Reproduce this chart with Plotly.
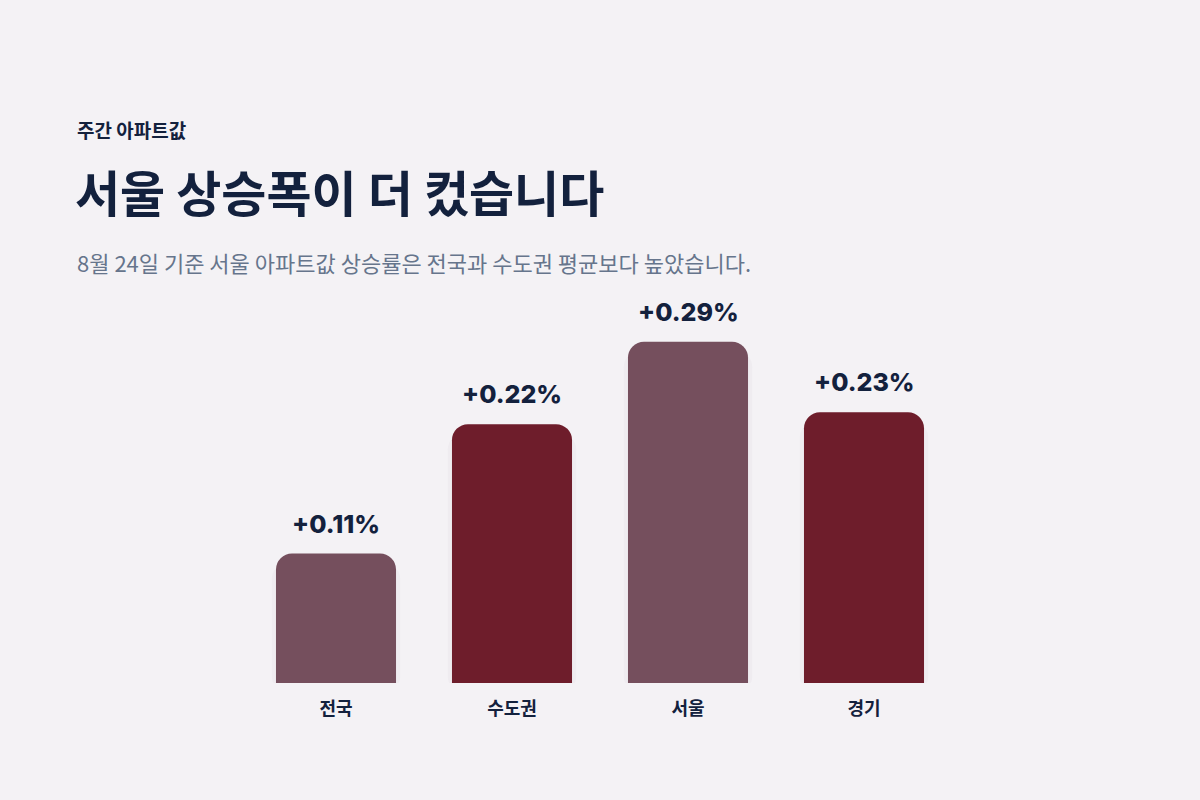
import plotly.graph_objects as go

# data
regions = ["전국", "수도권", "서울", "경기"]
weekly_change = [0.11, 0.22, 0.29, 0.23]
value_labels = ["+0.11%", "+0.22%", "+0.29%", "+0.23%"]
highlight = [False, True, False, True]

kicker = "주간 아파트값"
title = "서울 상승폭이 더 컸습니다"
subtitle = "8월 24일 기준 서울 아파트값 상승률은 전국과 수도권 평균보다 높았습니다."

W, H = 1200, 800
M_L, M_R, M_T, M_B = 248, 248, 330, 117

BG = "#F4F2F5"
NAVY = "#13213D"
MUTED = "#754F5D"
DARK = "#6E1D2B"
KR = "Noto Sans CJK KR"


def px_x(x):
    return (x - M_L) / (W - M_L - M_R)


def px_y(y):
    return (H - M_B - y) / (H - M_T - M_B)


colors = [DARK if h else MUTED for h in highlight]

fig = go.Figure()

# soft shadow behind the bars
fig.add_trace(go.Bar(
    x=regions, y=weekly_change, width=0.73, base=-0.008,
    marker=dict(color="rgba(80,60,80,0.03)", line_width=0),
    hoverinfo="skip", showlegend=False,
))
fig.add_trace(go.Bar(
    x=regions, y=weekly_change, width=0.682,
    marker=dict(color=colors, line_width=0),
    showlegend=False,
))

for r, v, t in zip(regions, weekly_change, value_labels):
    fig.add_annotation(
        x=r, y=v, text=t, showarrow=False, yanchor="bottom", yshift=13,
        font=dict(family="Inter", size=25, color=NAVY, weight=800),
    )

fig.add_annotation(xref="paper", yref="paper", x=px_x(75), y=px_y(129),
                   xanchor="left", yanchor="middle", text=kicker, showarrow=False,
                   font=dict(family=KR, size=19, color=NAVY, weight=700))
fig.add_annotation(xref="paper", yref="paper", x=px_x(73), y=px_y(190),
                   xanchor="left", yanchor="middle", text=title, showarrow=False,
                   font=dict(family=KR, size=49, color=NAVY, weight=700))
fig.add_annotation(xref="paper", yref="paper", x=px_x(75), y=px_y(262),
                   xanchor="left", yanchor="middle", text=subtitle, showarrow=False,
                   font=dict(family=KR, size=22, color="#66758C"))

fig.update_layout(
    width=W, height=H,
    margin=dict(l=M_L, r=M_R, t=M_T, b=M_B),
    paper_bgcolor=BG, plot_bgcolor=BG,
    barmode="overlay", barcornerradius=16,
    xaxis=dict(showgrid=False, zeroline=False, showline=False,
               ticks="outside", ticklen=0, ticklabelstandoff=9,
               tickfont=dict(family=KR, size=18, color=NAVY, weight=700)),
    yaxis=dict(range=[0, 0.3], visible=False, fixedrange=True),
)

fig.write_html("out.html", config={"displayModeBar": False},
               post_script="document.body.style.margin='0';"
               "document.body.style.background='#F4F2F5';")
